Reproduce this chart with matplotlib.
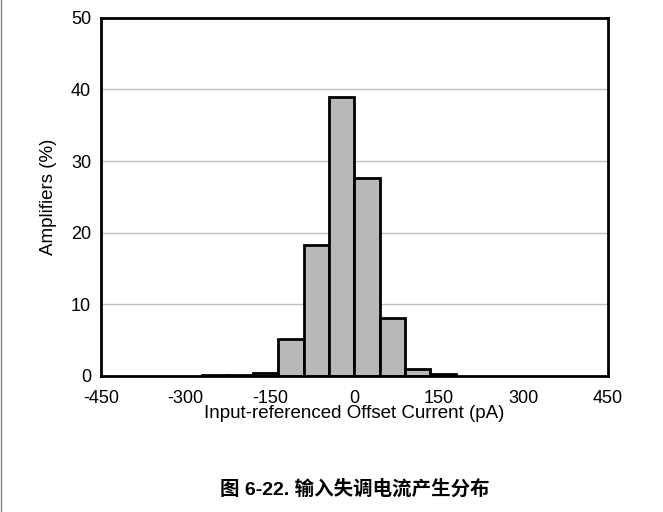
import numpy as np
import matplotlib
matplotlib.use('Agg')
import matplotlib.pyplot as plt
from matplotlib.lines import Line2D

# Histogram bins (pA) and share of amplifiers (%)
bin_edges = [-270, -225, -180, -135, -90, -45, 0, 45, 90, 135, 180]
amplifiers_pct = [0.1, 0.1, 0.4, 5.2, 18.3, 39.0, 27.7, 8.1, 0.9, 0.2]
x_ticks = [-450, -300, -150, 0, 150, 300, 450]
y_ticks = [0, 10, 20, 30, 40, 50]

plt.rcParams['font.family'] = ['Liberation Sans', 'DejaVu Sans']

fig = plt.figure(figsize=(6.63, 5.12), dpi=100)
ax = fig.add_axes([0.152, 0.266, 0.765, 0.699])

for y in y_ticks[1:-1]:
    ax.axhline(y, color='#c0c0c0', linewidth=1.0, zorder=0)

lefts = np.array(bin_edges[:-1])
widths = np.diff(bin_edges)
ax.bar(lefts, amplifiers_pct, width=widths, align='edge',
       color='#b8b8b8', edgecolor='black', linewidth=2.0, zorder=2)

ax.set_xlim(-450, 450)
ax.set_ylim(0, 50)
ax.set_xticks(x_ticks)
ax.set_xticklabels([str(t) for t in x_ticks])
ax.set_yticks(y_ticks)
ax.tick_params(length=0, labelsize=13)
ax.tick_params(axis='x', pad=10)
ax.tick_params(axis='y', pad=7)
for s in ax.spines.values():
    s.set_linewidth(2.0)
    s.set_zorder(3)

ax.set_xlabel('Input-referenced Offset Current (pA)', fontsize=13.5, labelpad=-1)
ax.set_ylabel('Amplifiers (%)', fontsize=13.5, labelpad=10)

fig.text(0.535, 0.045, '图 6-22. 输入失调电流产生分布', ha='center', va='center',
         fontsize=14, fontweight='bold',
         family=['Liberation Sans', 'Noto Sans CJK SC', 'DejaVu Sans'])

# page border on the left edge
fig.add_artist(Line2D([0.001, 0.001], [0, 1], color='#808080', linewidth=1.0,
                      transform=fig.transFigure))

fig.savefig('out.png', dpi=100)
